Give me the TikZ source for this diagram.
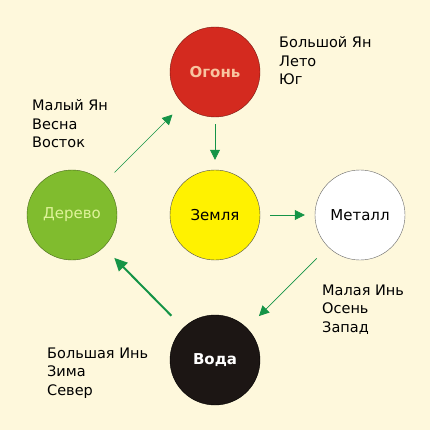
\documentclass[tikz,border=0pt]{standalone}
\usepackage{fontspec}
\setmainfont{DejaVu Sans}
\usepackage{xcolor}
\usetikzlibrary{arrows.meta}

\definecolor{paper}{HTML}{FEF8DC}
\definecolor{fire}{HTML}{D42A1F}
\definecolor{firetext}{HTML}{F8C4A0}
\definecolor{wood}{HTML}{80BC2E}
\definecolor{woodtext}{HTML}{DFF39A}
\definecolor{earth}{HTML}{FFF200}
\definecolor{metal}{HTML}{FFFFFF}
\definecolor{water}{HTML}{1C1614}
\definecolor{arrowgreen}{HTML}{159447}

\begin{document}
\begin{tikzpicture}[x=1pt, y=-1pt, >={Triangle[length=10pt,width=10pt]},
  element/.style={circle, draw=#1!55!black, fill=#1, minimum size=90pt,
    inner sep=0pt, font=\fontsize{15}{17}\selectfont},
  note/.style={anchor=base west, align=left, inner sep=0pt,
    font=\fontsize{14.5}{18.5}\selectfont},
  link/.style={->, draw=arrowgreen, line width=0.7pt}]

\fill [paper] (0,0) rectangle (430,430);

% the five elements
\node [element=fire, text=firetext, font=\fontsize{15}{17}\selectfont\bfseries] (fire) at (215,72) {Огонь};
\node [element=wood, text=woodtext] (wood) at (72,215) {Дерево};
\node [element=earth, draw=black!70] (earth) at (215,215) {Земля};
\node [element=metal, draw=black!60] (metal) at (360,215) {Металл};
\node [element=water, draw=black, text=white, font=\fontsize{15}{17}\selectfont\bfseries] (water) at (215,360) {Вода};

% seasons and directions (placed at the baseline of the last line)
\foreach \n/\x/\y/\t in {fire/279/85/{Большой Ян\\Лето\\Юг},
                         wood/32/148/{Малый Ян\\Весна\\Восток},
                         metal/322/332/{Малая Инь\\Осень\\Запад},
                         water/47/395/{Большая Инь\\Зима\\Север}}
  \node [note] (\n-note) at (\x,\y) {\t};

% generating cycle
\foreach \a/\b/\s/\e in {wood/fire/15/15, fire/earth/7/10,
                         earth/metal/10/10, metal/water/16/17}
  \draw [link, shorten <=\s pt, shorten >=\e pt] (\a) -- (\b);

\draw [link, line width=2pt, >={Triangle[length=13pt,width=12pt]},
  shorten <=17pt, shorten >=15pt] (water) -- (wood);

\end{tikzpicture}
\end{document}
